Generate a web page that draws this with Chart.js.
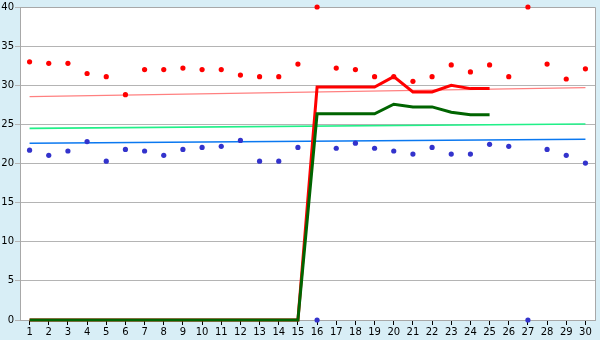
<!DOCTYPE html>
<html>
<head>
<meta charset="utf-8">
<script src="https://cdn.jsdelivr.net/npm/chart.js@4"></script>
<style>
  body { margin: 0; background: #d8eef6; }
  #wrap { width: 600px; height: 340px; }
</style>
</head>
<body>
<div id="wrap"><canvas id="myChart" width="600" height="340"></canvas></div>
<script>
// days on the x axis
var days = ['1','2','3','4','5','6','7','8','9','10','11','12','13','14','15',
            '16','17','18','19','20','21','22','23','24','25','26','27','28','29','30'];

// single readings (markers)
var redPoints = [33.0, 32.8, 32.8, 31.5, 31.1, 28.8, 32.0, 32.0, 32.2, 32.0, 32.0, 31.3, 31.1, 31.1, 32.7,
                 40, 32.2, 32.0, 31.1, 31.1, 30.5, 31.1, 32.6, 31.7, 32.6, 31.1, 40, 32.7, 30.8, 32.1];
var bluePoints = [21.7, 21.05, 21.6, 22.8, 20.3, 21.8, 21.6, 21.05, 21.8, 22.05, 22.2, 22.95, 20.3, 20.3, 22.05,
                  0, 21.95, 22.6, 21.95, 21.6, 21.2, 22.05, 21.2, 21.2, 22.45, 22.2, 0, 21.8, 21.05, 20.05];

// thick lines (stop at day 25)
var redLine = [0, 0, 0, 0, 0, 0, 0, 0, 0, 0, 0, 0, 0, 0, 0,
               29.77, 29.77, 29.77, 29.77, 31.1, 29.14, 29.14, 30.0, 29.57, 29.57];
var greenLine = [0, 0, 0, 0, 0, 0, 0, 0, 0, 0, 0, 0, 0, 0, 0,
                 26.35, 26.35, 26.35, 26.35, 27.57, 27.23, 27.23, 26.56, 26.22, 26.22];

// trend lines, start (day 1) and end (day 30)
var redTrend = [28.55, 29.7];
var greenTrend = [24.49, 25.05];
var blueTrend = [22.58, 23.09];

// y axis
var yMin = 0, yMax = 40, yStep = 5;

function trendData(ends) {
    var arr = [];
    for (var i = 0; i < days.length; i++) arr.push(null);
    arr[0] = ends[0];
    arr[days.length - 1] = ends[1];
    return arr;
}

var plotBg = {
    id: 'plotBg',
    beforeDraw: function (chart) {
        var c = chart.ctx, a = chart.chartArea;
        c.save();
        c.fillStyle = '#d8eef6';
        c.fillRect(0, 0, chart.width, chart.height);
        c.fillStyle = '#ffffff';
        c.fillRect(a.left, a.top, a.right - a.left, a.bottom - a.top);
        c.restore();
    },
    beforeDatasetsDraw: function (chart) {
        var c = chart.ctx, a = chart.chartArea;
        c.save();
        c.strokeStyle = '#a8a8a8';
        c.lineWidth = 1;
        c.beginPath();
        c.moveTo(a.left + 0.5, a.top + 0.5);
        c.lineTo(a.right + 0.5, a.top + 0.5);
        c.lineTo(a.right + 0.5, a.bottom + 0.5);
        c.stroke();
        c.restore();
    }
};

var ctx = document.getElementById('myChart');
var myChart = new Chart(ctx, {
    type: 'line',
    data: {
        labels: days,
        datasets: [
            {
                data: redPoints, showLine: false, order: 0, clip: false,
                pointStyle: 'circle', pointRadius: 2.6, borderWidth: 0,
                backgroundColor: '#ff0000', borderColor: '#ff0000'
            },
            {
                data: bluePoints, showLine: false, order: 0, clip: false,
                pointStyle: 'circle', pointRadius: 2.6, borderWidth: 0,
                backgroundColor: '#3333cc', borderColor: '#3333cc'
            },
            {
                data: greenLine, order: 1, clip: false, borderColor: '#006400', borderWidth: 3,
                pointRadius: 0, tension: 0
            },
            {
                data: redLine, order: 2, clip: false, borderColor: '#ff0000', borderWidth: 3,
                pointRadius: 0, tension: 0
            },
            {
                data: trendData(redTrend), order: 3, spanGaps: true, borderColor: '#ff8080',
                borderWidth: 1.2, pointRadius: 0
            },
            {
                data: trendData(greenTrend), order: 3, spanGaps: true, borderColor: '#20f088',
                borderWidth: 1.6, pointRadius: 0
            },
            {
                data: trendData(blueTrend), order: 3, spanGaps: true, borderColor: '#0a78f0',
                borderWidth: 1.4, pointRadius: 0
            }
        ]
    },
    options: {
        responsive: false,
        animation: false,
        layout: { padding: { top: 5, right: 5, left: 0, bottom: 0 } },
        plugins: { legend: { display: false }, tooltip: { enabled: false } },
        scales: {
            x: {
                type: 'category',
                offset: true,
                afterFit: function (s) { s.height = 20; },
                grid: { offset: false, drawOnChartArea: false, drawTicks: true, tickLength: 5, color: '#000000' },
                border: { color: '#a8a8a8' },
                ticks: { color: '#000', padding: 1, maxRotation: 0, autoSkip: false,
                         font: { family: 'DejaVu Sans', size: 10 } }
            },
            y: {
                min: yMin, max: yMax,
                afterFit: function (s) { s.width = 20; },
                grid: { color: '#b4b4b4', tickLength: 5 },
                border: { color: '#a8a8a8' },
                ticks: { stepSize: yStep, color: '#000', padding: 1,
                         font: { family: 'DejaVu Sans', size: 10 } }
            }
        }
    },
    plugins: [plotBg]
});
</script>
</body>
</html>
